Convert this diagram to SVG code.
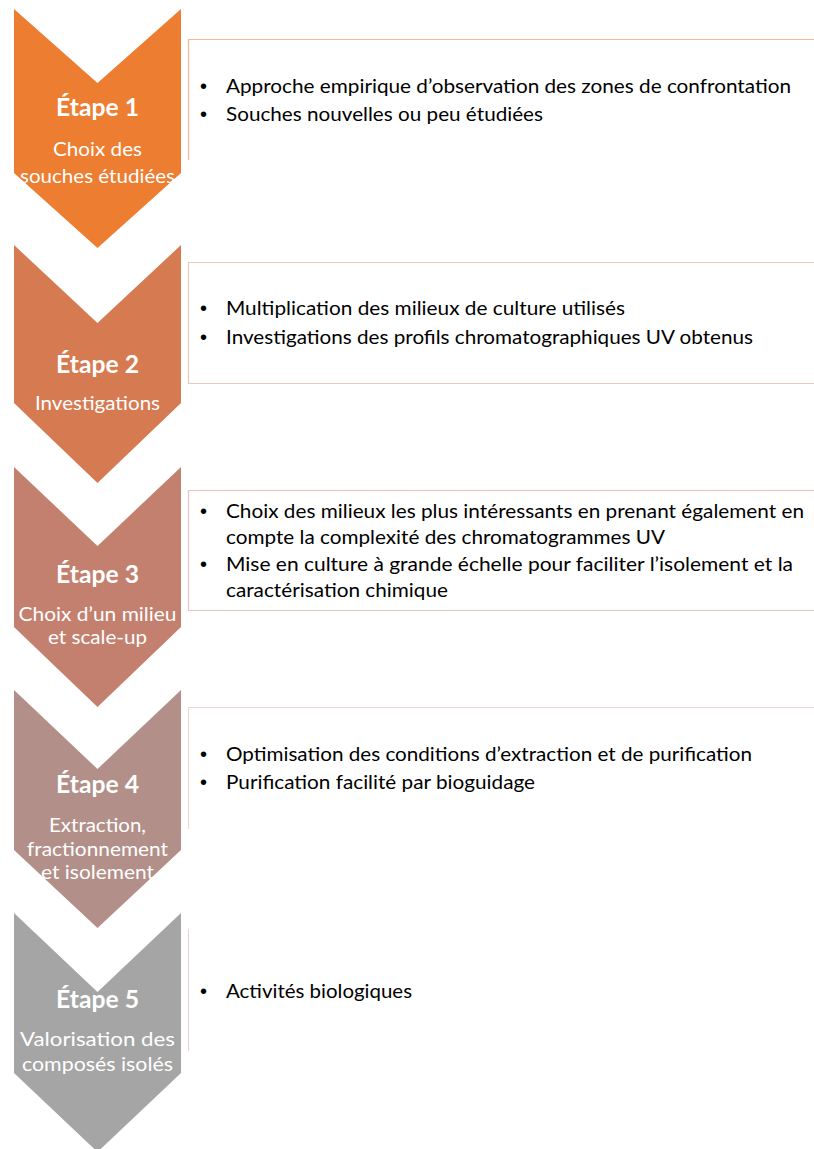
<svg xmlns="http://www.w3.org/2000/svg" width="814" height="1149" viewBox="0 0 814 1149">
<style>
.t{font-family:Lato,"Liberation Sans",sans-serif;fill:#fff;text-anchor:middle}
.h{font-size:24px;font-weight:700}
.s{font-size:19.5px}
.b{font-family:Lato,"Liberation Sans",sans-serif;font-size:19px;fill:#000}
.d{font-family:"Liberation Sans",sans-serif;font-size:20px;fill:#000}
.box{fill:none;stroke-width:1.2}
</style>
<rect width="814" height="1149" fill="#fff"/>
<g id="connectors"/>
<g id="step1">
<path d="M14,9 L97.5,83 L181,9 L181,173 L97.5,248 L14,173 Z" fill="#ED7D31"/>
<text class="t h" x="97.5" y="115.5" textLength="83" lengthAdjust="spacingAndGlyphs">Étape 1</text>
<text class="t s" x="97.5" y="155.5" textLength="89" lengthAdjust="spacingAndGlyphs">Choix des</text>
<text class="t s" x="97.5" y="183" textLength="155" lengthAdjust="spacingAndGlyphs">souches étudiées</text>
<path class="box" d="M814,39.5 H188.5 V160" stroke="#F4B892"/>
<text class="d" x="200" y="92.5">•</text>
<text class="b" x="226" y="92.5" textLength="565" lengthAdjust="spacingAndGlyphs">Approche empirique d’observation des zones de confrontation</text>
<text class="d" x="200" y="120.5">•</text>
<text class="b" x="226" y="120.5" textLength="317" lengthAdjust="spacingAndGlyphs">Souches nouvelles ou peu étudiées</text>
</g>
<g id="step2">
<path d="M14,245 L97.5,323 L181,245 L181,403 L97.5,483 L14,403 Z" fill="#D67A52"/>
<text class="t h" x="97.5" y="373" textLength="83" lengthAdjust="spacingAndGlyphs">Étape 2</text>
<text class="t s" x="97.5" y="410" textLength="125" lengthAdjust="spacingAndGlyphs">Investigations</text>
<path class="box" d="M814,262.5 H188.5 V383.5 H814" stroke="#EEC9B8"/>
<text class="d" x="200" y="314.5">•</text>
<text class="b" x="226" y="314.5" textLength="399" lengthAdjust="spacingAndGlyphs">Multiplication des milieux de culture utilisés</text>
<text class="d" x="200" y="343.5">•</text>
<text class="b" x="226" y="343.5" textLength="527" lengthAdjust="spacingAndGlyphs">Investigations des profils chromatographiques UV obtenus</text>
</g>
<g id="step3">
<path d="M14,467 L97.5,546 L181,467 L181,627 L97.5,707 L14,627 Z" fill="#C4806F"/>
<text class="t h" x="97.5" y="583" textLength="83" lengthAdjust="spacingAndGlyphs">Étape 3</text>
<text class="t s" x="97.5" y="620.5" textLength="158" lengthAdjust="spacingAndGlyphs">Choix d’un milieu</text>
<text class="t s" x="97.5" y="644" textLength="99" lengthAdjust="spacingAndGlyphs">et scale-up</text>
<path class="box" d="M814,490.5 H188.5 V610.5 H814" stroke="#E6C5BC"/>
<text class="d" x="200" y="518">•</text>
<text class="b" x="226" y="518" textLength="578" lengthAdjust="spacingAndGlyphs">Choix des milieux les plus intéressants en prenant également en</text>
<text class="b" x="226" y="544" textLength="439" lengthAdjust="spacingAndGlyphs">compte la complexité des chromatogrammes UV</text>
<text class="d" x="200" y="571">•</text>
<text class="b" x="226" y="571" textLength="567" lengthAdjust="spacingAndGlyphs">Mise en culture à grande échelle pour faciliter l’isolement et la</text>
<text class="b" x="226" y="597" textLength="222" lengthAdjust="spacingAndGlyphs">caractérisation chimique</text>
</g>
<g id="step4">
<path d="M14,690 L97.5,769 L181,690 L181,850 L97.5,928 L14,850 Z" fill="#B38F89"/>
<text class="t h" x="97.5" y="793" textLength="83" lengthAdjust="spacingAndGlyphs">Étape 4</text>
<text class="t s" x="97.5" y="832" textLength="97" lengthAdjust="spacingAndGlyphs">Extraction,</text>
<text class="t s" x="97.5" y="855.5" textLength="141" lengthAdjust="spacingAndGlyphs">fractionnement</text>
<text class="t s" x="97.5" y="879" textLength="113" lengthAdjust="spacingAndGlyphs">et isolement</text>
<path class="box" d="M814,707.5 H188.5 V829" stroke="#EDD6D3"/>
<text class="d" x="200" y="760.5">•</text>
<text class="b" x="226" y="760.5" textLength="526" lengthAdjust="spacingAndGlyphs">Optimisation des conditions d’extraction et de purification</text>
<text class="d" x="200" y="788.5">•</text>
<text class="b" x="226" y="788.5" textLength="309" lengthAdjust="spacingAndGlyphs">Purification facilité par bioguidage</text>
</g>
<g id="step5">
<path d="M14,913 L97.5,992 L181,913 L181,1073 L97.5,1152 L14,1073 Z" fill="#A5A5A5"/>
<text class="t h" x="97.5" y="1008" textLength="83" lengthAdjust="spacingAndGlyphs">Étape 5</text>
<text class="t s" x="97.5" y="1046" textLength="155" lengthAdjust="spacingAndGlyphs">Valorisation des</text>
<text class="t s" x="97.5" y="1071" textLength="151" lengthAdjust="spacingAndGlyphs">composés isolés</text>
<path class="box" d="M188.5,929 V1051" stroke="#EDD0D0"/>
<text class="d" x="200" y="997.5">•</text>
<text class="b" x="226" y="997.5" textLength="186" lengthAdjust="spacingAndGlyphs">Activités biologiques</text>
</g>
</svg>
